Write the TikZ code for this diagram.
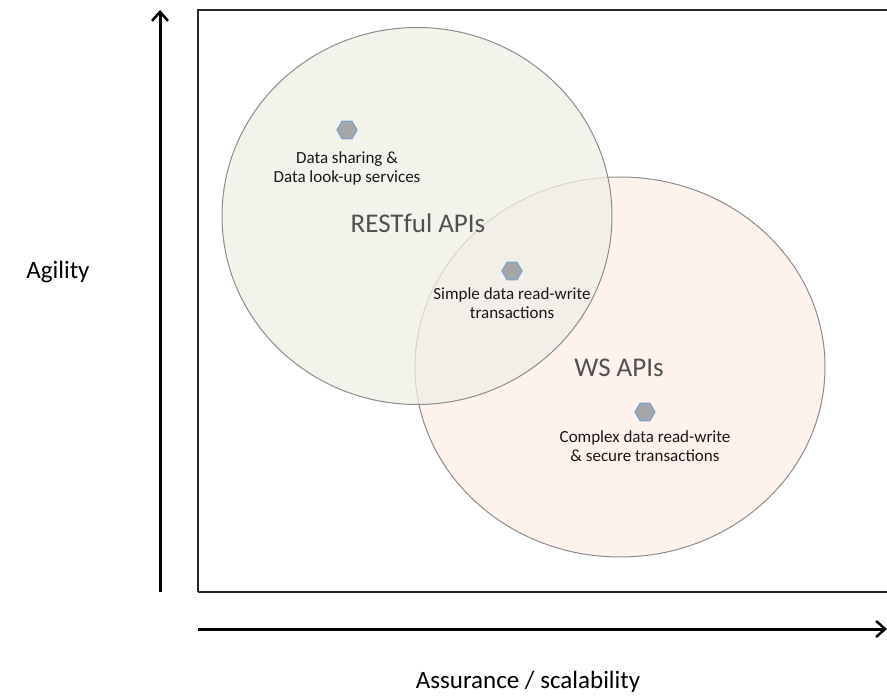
\documentclass[tikz,border=0pt]{standalone}
\usepackage{fontspec}
\setmainfont{Carlito}
\usepackage{xcolor}
\usetikzlibrary{arrows.meta, positioning, shapes.geometric}

\definecolor{restfill}{HTML}{EFEFE6}
\definecolor{wsfill}{HTML}{FCEDE6}
\definecolor{rimgray}{HTML}{8C8C8C}
\definecolor{hexgray}{HTML}{A6A6A6}
\definecolor{hexblue}{HTML}{7FA3CC}
\definecolor{labelgray}{HTML}{505050}

\begin{document}
\begin{tikzpicture}[
  x=1pt, y=-1pt,
  every node/.style={font=\fontsize{17}{19}\selectfont},
  zone/.style={draw=rimgray, line width=1pt, ellipse, fill opacity=0.75, text opacity=1},
  hexmark/.style={regular polygon, regular polygon sides=6, minimum size=20pt, inner sep=0pt,
    fill=hexgray, draw=hexblue, line width=1.2pt},
  note/.style={align=center, text=black!90, inner sep=0pt},
  zonelabel/.style={font=\fontsize{27}{30}\selectfont, text=labelgray, inner sep=0pt},
  axis/.style={line width=3pt, -{Straight Barb[length=9pt, width=16pt, line width=2.5pt]}},
  axislabel/.style={font=\fontsize{25}{29}\selectfont, inner sep=0pt}
]
\useasboundingbox (0,0) rectangle (887,698);

% Frame
\draw[line width=1.5pt, black!85] (198,592) -- (198,10) -- (900,10)
  (198,592) -- (900,592);

% Zones
\node[zone, fill=wsfill, minimum width=410pt, minimum height=380pt] (ws) at (620,367) {};
\node[zone, fill=restfill, minimum width=390pt, minimum height=377pt] (rest) at (417,216) {};

% Markers
\node[hexmark] (share) at (347,130) {};
\node[hexmark] (simple) at (512,271) {};
\node[hexmark] (complex) at (645,412) {};

% Labels
\node[note, below=12pt of share] (sharetext) {Data sharing \&\\Data look-up services};
\node[zonelabel] (restlabel) at (418,223) {RESTful APIs};
\node[note, below=7pt of simple] (simpletext) {Simple data read-write\\transactions};
\node[zonelabel] (wslabel) at (619,368) {WS APIs};
\node[note, below=9pt of complex] (complextext) {Complex data read-write\\\& secure transactions};

% Axes
\coordinate (yfoot) at (160,592);
\coordinate (ytop) at (160,10);
\coordinate (xfoot) at (198,629);
\coordinate (xtip) at (887,629);
\draw[axis] (yfoot) -- (ytop);
\draw[axis] (xfoot) -- (xtip);

\node[axislabel] (agility) at (58,272) {Agility};
\node[axislabel] (assurance) at (528,682) {Assurance / scalability};
\end{tikzpicture}
\end{document}
